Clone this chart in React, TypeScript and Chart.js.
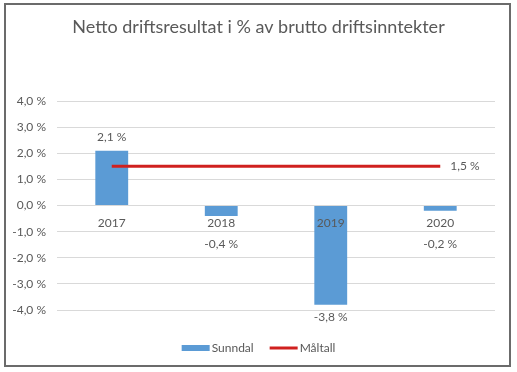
import React, { useEffect, useRef } from 'react';
import { Chart, registerables } from 'chart.js';

Chart.register(...registerables);

const chartTitle = 'Netto driftsresultat i % av brutto driftsinntekter';
const categories = ['2017', '2018', '2019', '2020'];
const sunndalName = 'Sunndal';
const sunndalValues = [2.1, -0.4, -3.8, -0.2];
const maltallName = 'Måltall';
const maltallValues = [1.5, 1.5, 1.5, 1.5];
const yMin = -4;
const yMax = 4;
const yStep = 1;

const FONT = 'Lato, "Open Sans", sans-serif';
const TEXT = '#595959';

const fmt = (v: number) => v.toFixed(1).replace('.', ',') + ' %';

const titlePlugin = {
  id: 'centerTitle',
  afterDraw(chart: any) {
    const ctx = chart.ctx;
    ctx.save();
    ctx.font = `18px ${FONT}`;
    ctx.fillStyle = TEXT;
    ctx.textAlign = 'center';
    ctx.textBaseline = 'middle';
    ctx.fillText(chartTitle, chart.width / 2, 27);
    ctx.restore();
  },
};

const valueLabels = {
  id: 'valueLabels',
  afterDatasetsDraw(chart: any) {
    const ctx = chart.ctx;
    const zero = chart.scales.y.getPixelForValue(0);
    ctx.save();
    ctx.font = `12px ${FONT}`;
    ctx.fillStyle = TEXT;
    ctx.textAlign = 'center';
    ctx.textBaseline = 'middle';
    const bars = chart.getDatasetMeta(0).data;
    const barVals = chart.data.datasets[0].data as number[];
    bars.forEach((el: any, i: number) => {
      const v = barVals[i];
      const ty = v >= 0 ? el.y - 14 : Math.max(el.y + 12, zero + 39);
      ctx.fillText(fmt(v), el.x, ty);
    });
    const pts = chart.getDatasetMeta(1).data;
    const lineVals = chart.data.datasets[1].data as number[];
    const last = pts[pts.length - 1];
    ctx.textAlign = 'left';
    ctx.fillText(fmt(lineVals[lineVals.length - 1]), last.x + 10, last.y);
    ctx.restore();
  },
};

const customLegend = {
  id: 'customLegend',
  afterDraw(chart: any) {
    const ctx = chart.ctx;
    const ds = chart.data.datasets;
    ctx.save();
    ctx.font = `12px ${FONT}`;
    ctx.textBaseline = 'middle';
    ctx.textAlign = 'left';
    const sw = 28;
    const gap = 2;
    const spacing = 16;
    const widths = ds.map((d: any) => sw + gap + ctx.measureText(d.label).width);
    const total = widths.reduce((a: number, b: number) => a + b, 0) + spacing * (ds.length - 1);
    let x = chart.width / 2 - total / 2;
    const y = 348;
    ds.forEach((d: any, i: number) => {
      if (d.type === 'line') {
        ctx.strokeStyle = d.borderColor;
        ctx.lineWidth = 3;
        ctx.beginPath();
        ctx.moveTo(x, y);
        ctx.lineTo(x + sw, y);
        ctx.stroke();
      } else {
        ctx.fillStyle = d.backgroundColor;
        ctx.fillRect(x, y - 3, sw, 6);
      }
      ctx.fillStyle = TEXT;
      ctx.fillText(d.label, x + sw + gap, y);
      x += widths[i] + spacing;
    });
    ctx.restore();
  },
};

export default function App() {
  const ref = useRef<HTMLCanvasElement>(null);
  useEffect(() => {
    document.body.style.margin = '0';
    const chart = new Chart(ref.current as HTMLCanvasElement, {
      data: {
        labels: categories,
        datasets: [
          {
            type: 'bar',
            label: sunndalName,
            data: sunndalValues,
            backgroundColor: '#5B9BD5',
            barPercentage: 0.3,
            categoryPercentage: 1,
            order: 2,
          },
          {
            type: 'line',
            label: maltallName,
            data: maltallValues,
            borderColor: '#D0201F',
            backgroundColor: '#D0201F',
            borderWidth: 3,
            pointRadius: 0,
            order: 1,
          },
        ] as any,
      },
      options: {
        responsive: false,
        animation: false,
        layout: { padding: { left: 0, right: 22, top: 101, bottom: 62 } },
        plugins: {
          legend: { display: false },
          tooltip: { enabled: false },
          title: { display: false },
        },
        scales: {
          x: {
            position: { y: 0 } as any,
            grid: { display: false, drawTicks: false },
            border: { display: false },
            ticks: { color: TEXT, font: { family: FONT, size: 12 }, padding: 10, z: 1 } as any,
          },
          y: {
            min: yMin,
            max: yMax,
            afterFit: (s: any) => { s.width = 57; },
            grid: { color: '#D9D9D9', drawTicks: false },
            border: { display: false },
            ticks: {
              stepSize: yStep,
              color: TEXT,
              font: { family: FONT, size: 12 },
              padding: 11,
              callback: (v: any) => fmt(Number(v)),
            },
          },
        },
      },
      plugins: [titlePlugin, valueLabels, customLegend],
    });
    return () => chart.destroy();
  }, []);
  return (
    <div style={{ position: 'relative', width: 517, height: 372, background: '#fff' }}>
      <canvas ref={ref} width={517} height={372} style={{ display: 'block' }} />
      <div
        style={{
          position: 'absolute',
          left: 4,
          top: 3,
          width: 507,
          height: 364,
          border: '2px solid #6b6b6b',
          boxSizing: 'border-box',
          pointerEvents: 'none',
        }}
      />
    </div>
  );
}
